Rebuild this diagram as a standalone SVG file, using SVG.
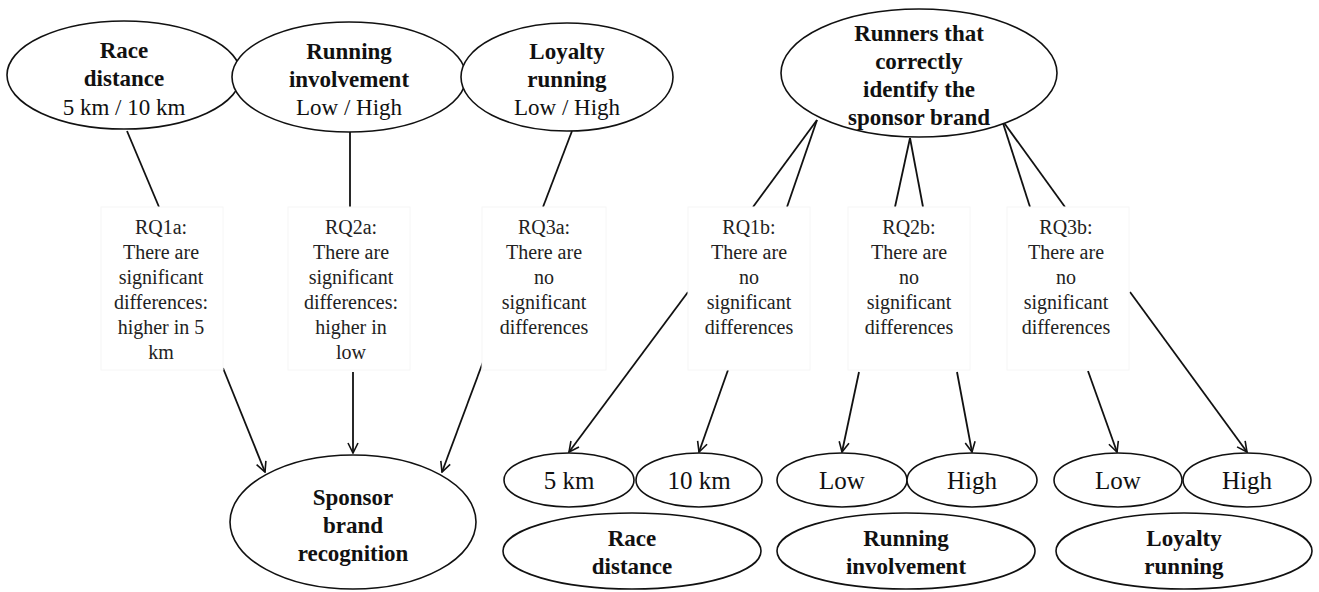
<svg xmlns="http://www.w3.org/2000/svg" width="1319" height="592" viewBox="0 0 1319 592">
<defs>
<style>
.ell{fill:#fff;stroke:#111;stroke-width:1.6}
.b{font-family:"Liberation Serif","Times New Roman",serif;font-weight:bold;font-size:23px;fill:#111;text-anchor:middle}
.r{font-family:"Liberation Serif","Times New Roman",serif;font-size:23px;fill:#111;text-anchor:middle}
.s{font-family:"Liberation Serif","Times New Roman",serif;font-size:25px;fill:#111;text-anchor:middle}
.q{font-family:"Liberation Serif","Times New Roman",serif;font-size:20px;fill:#222;text-anchor:middle}
.box{fill:#fff;stroke:#f6f6f6;stroke-width:1}
.ln{stroke:#111;stroke-width:1.8;fill:none}
.ar{stroke:#111;stroke-width:1.8;fill:none;marker-end:url(#arr)}
</style>
<marker id="arr" viewBox="0 0 12 12" refX="11" refY="6" markerWidth="12" markerHeight="12" markerUnits="userSpaceOnUse" orient="auto">
<path d="M1,1 L11,6 L1,11" fill="none" stroke="#111" stroke-width="1.6"/>
</marker>
</defs>
<rect width="1319" height="592" fill="#fff"/>

<g id="connectors">
<line class="ln" x1="127" y1="131" x2="159" y2="207"/>
<line class="ln" x1="350" y1="132" x2="350" y2="207"/>
<line class="ln" x1="572" y1="131" x2="543" y2="207"/>
<line class="ln" x1="817" y1="120" x2="753" y2="207"/>
<line class="ln" x1="817" y1="120" x2="787" y2="207"/>
<line class="ln" x1="910" y1="138" x2="895" y2="207"/>
<line class="ln" x1="910" y1="138" x2="923" y2="207"/>
<line class="ln" x1="1002" y1="120" x2="1030" y2="207"/>
<line class="ln" x1="1002" y1="120" x2="1065" y2="207"/>
<line class="ar" x1="223" y1="368" x2="265" y2="472"/>
<line class="ar" x1="353" y1="372" x2="353" y2="453"/>
<line class="ar" x1="483" y1="362" x2="442" y2="472"/>
<line class="ar" x1="688" y1="292" x2="569" y2="452"/>
<line class="ar" x1="728" y1="370" x2="699" y2="452"/>
<line class="ar" x1="859" y1="372" x2="842" y2="452"/>
<line class="ar" x1="957" y1="372" x2="972" y2="452"/>
<line class="ar" x1="1088" y1="371" x2="1117" y2="452"/>
<line class="ar" x1="1130" y1="292" x2="1247" y2="452"/>
</g>

<g id="race-distance-top">
<ellipse class="ell" cx="124" cy="75" rx="117" ry="54"/>
<text class="b" x="124" y="58">Race</text>
<text class="b" x="124" y="86">distance</text>
<text class="r" x="124" y="115">5 km / 10 km</text>
</g>
<g id="running-involvement-top">
<ellipse class="ell" cx="349" cy="77" rx="117" ry="55"/>
<text class="b" x="349" y="59">Running</text>
<text class="b" x="349" y="87">involvement</text>
<text class="r" x="349" y="115">Low / High</text>
</g>
<g id="loyalty-running-top">
<ellipse class="ell" cx="567" cy="77" rx="106" ry="54"/>
<text class="b" x="567" y="59">Loyalty</text>
<text class="b" x="567" y="87">running</text>
<text class="r" x="567" y="115">Low / High</text>
</g>
<g id="runners">
<ellipse class="ell" cx="919" cy="73" rx="138" ry="64"/>
<text class="b" x="919" y="41">Runners that</text>
<text class="b" x="919" y="69">correctly</text>
<text class="b" x="919" y="97">identify the</text>
<text class="b" x="919" y="125">sponsor brand</text>
</g>

<g id="rq1a">
<rect class="box" x="101" y="207" width="122" height="163"/>
<text class="q" x="161" y="234">RQ1a:</text>
<text class="q" x="161" y="259">There are</text>
<text class="q" x="161" y="284">significant</text>
<text class="q" x="161" y="309">differences:</text>
<text class="q" x="161" y="334">higher  in 5</text>
<text class="q" x="161" y="359">km</text>
</g>
<g id="rq2a">
<rect class="box" x="288" y="207" width="122" height="163"/>
<text class="q" x="351" y="234">RQ2a:</text>
<text class="q" x="351" y="259">There are</text>
<text class="q" x="351" y="284">significant</text>
<text class="q" x="351" y="309">differences:</text>
<text class="q" x="351" y="334">higher  in</text>
<text class="q" x="351" y="359">low</text>
</g>
<g id="rq3a">
<rect class="box" x="482" y="207" width="124" height="163"/>
<text class="q" x="544" y="234">RQ3a:</text>
<text class="q" x="544" y="259">There are</text>
<text class="q" x="544" y="284">no</text>
<text class="q" x="544" y="309">significant</text>
<text class="q" x="544" y="334">differences</text>
</g>
<g id="rq1b">
<rect class="box" x="688" y="207" width="122" height="163"/>
<text class="q" x="749" y="234">RQ1b:</text>
<text class="q" x="749" y="259">There are</text>
<text class="q" x="749" y="284">no</text>
<text class="q" x="749" y="309">significant</text>
<text class="q" x="749" y="334">differences</text>
</g>
<g id="rq2b">
<rect class="box" x="848" y="207" width="122" height="163"/>
<text class="q" x="909" y="234">RQ2b:</text>
<text class="q" x="909" y="259">There are</text>
<text class="q" x="909" y="284">no</text>
<text class="q" x="909" y="309">significant</text>
<text class="q" x="909" y="334">differences</text>
</g>
<g id="rq3b">
<rect class="box" x="1007" y="207" width="122" height="163"/>
<text class="q" x="1066" y="234">RQ3b:</text>
<text class="q" x="1066" y="259">There are</text>
<text class="q" x="1066" y="284">no</text>
<text class="q" x="1066" y="309">significant</text>
<text class="q" x="1066" y="334">differences</text>
</g>

<g id="sponsor-brand-recognition">
<ellipse class="ell" cx="353" cy="522" rx="123" ry="67"/>
<text class="b" x="353" y="505">Sponsor</text>
<text class="b" x="353" y="533">brand</text>
<text class="b" x="353" y="561">recognition</text>
</g>

<g id="km5"><ellipse class="ell" cx="569" cy="480" rx="65" ry="27"/><text class="s" x="569" y="489">5 km</text></g>
<g id="km10"><ellipse class="ell" cx="699" cy="480" rx="63" ry="27"/><text class="s" x="699" y="489">10 km</text></g>
<g id="ri-low"><ellipse class="ell" cx="842" cy="480" rx="65" ry="27"/><text class="s" x="842" y="489">Low</text></g>
<g id="ri-high"><ellipse class="ell" cx="972" cy="480" rx="65" ry="27"/><text class="s" x="972" y="489">High</text></g>
<g id="lr-low"><ellipse class="ell" cx="1118" cy="480" rx="64" ry="27"/><text class="s" x="1118" y="489">Low</text></g>
<g id="lr-high"><ellipse class="ell" cx="1247" cy="480" rx="64" ry="27"/><text class="s" x="1247" y="489">High</text></g>

<g id="race-distance-bottom">
<ellipse class="ell" cx="632" cy="551" rx="129" ry="38"/>
<text class="b" x="632" y="546">Race</text>
<text class="b" x="632" y="574">distance</text>
</g>
<g id="running-involvement-bottom">
<ellipse class="ell" cx="906" cy="551" rx="129" ry="38"/>
<text class="b" x="906" y="546">Running</text>
<text class="b" x="906" y="574">involvement</text>
</g>
<g id="loyalty-running-bottom">
<ellipse class="ell" cx="1184" cy="551" rx="128" ry="38"/>
<text class="b" x="1184" y="546">Loyalty</text>
<text class="b" x="1184" y="574">running</text>
</g>
</svg>
